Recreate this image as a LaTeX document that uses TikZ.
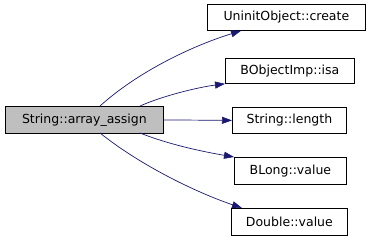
\documentclass[tikz,border=0pt]{standalone}
\usepackage{fontspec}
\setmainfont{DejaVu Sans}
\usetikzlibrary{arrows.meta}
\definecolor{edgecol}{HTML}{191970}
\begin{document}
\begin{tikzpicture}[x=1pt,y=-1pt,
  fn/.style={draw=black,line width=0.8pt,fill=white,minimum height=26pt,inner sep=0pt,font=\fontsize{12.5}{14}\selectfont,anchor=north west},
  edge/.style={draw=edgecol,line width=0.7pt,-{Stealth[length=10pt,width=7pt,inset=0pt]}}]
\useasboundingbox (0,0) rectangle (373,240);
\node[fn,fill=gray!50,minimum width=158pt,minimum height=27pt] (src) at (5,106) {String::array\_assign};
\node[fn,minimum width=158pt] (a) at (207,4) {UninitObject::create};
\node[fn,minimum width=129pt,minimum height=25pt] (b) at (225,58) {BObjectImp::isa};
\node[fn,minimum width=114pt] (c) at (232,107) {String::length};
\node[fn,minimum width=112pt,minimum height=27pt] (d) at (234,157) {BLong::value};
\node[fn,minimum width=116pt,minimum height=27pt] (e) at (231,208) {Double::value};
\draw[edge] (100,106) .. controls (140,70) and (195,45) .. ([xshift=34pt]a.south west);
\draw[edge] (140,106) .. controls (165,95) and (200,87) .. (b.south west);
\draw[edge] (src.east) -- (c.west);
\draw[edge] (140,133) .. controls (170,145) and (205,152) .. (d.north west);
\draw[edge] (100,133) .. controls (140,165) and (195,192) .. ([xshift=11pt]e.north west);
\end{tikzpicture}
\end{document}
